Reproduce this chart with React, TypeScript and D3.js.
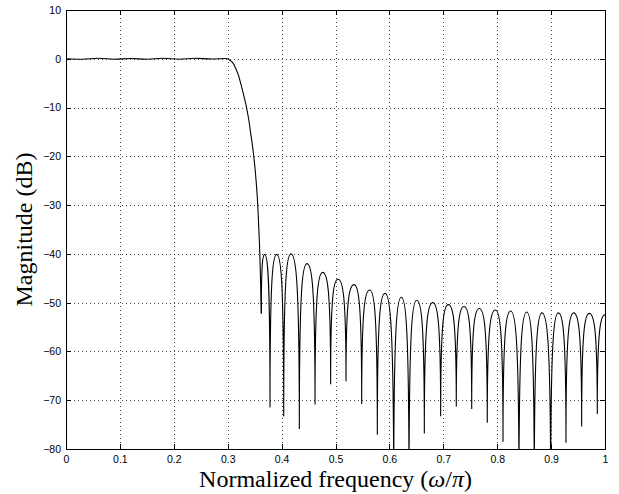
import React, { useEffect, useRef } from 'react';
import * as d3 from 'd3';

// passband ripple + transition band (normalized freq, dB)
const passFreq = [0, 0.03, 0.06, 0.09, 0.12, 0.15, 0.18, 0.21, 0.24, 0.27, 0.295, 0.3, 0.305, 0.31, 0.315, 0.32, 0.324, 0.33, 0.335, 0.3395, 0.3428, 0.3462, 0.349, 0.3512, 0.3531, 0.3547, 0.3559, 0.3578, 0.3596, 0.3611, 0.3624];
const passDb = [0, -0.1, 0.1, -0.1, 0.05, -0.1, 0.1, -0.1, 0.1, -0.05, 0.05, -0.05, -0.35, -0.9, -2.0, -3.4, -5, -7.6, -10, -12.8, -15.4, -18, -20.6, -23, -25.6, -28, -30.3, -35, -40, -46, -52.2];

// stopband nulls (some fall below the -80 dB floor)
const nullFreq = [0.3624, 0.3785, 0.4039, 0.4329, 0.462, 0.491, 0.5195, 0.5486, 0.5776, 0.608, 0.6364, 0.6648, 0.6951, 0.7241, 0.7527, 0.7816, 0.8108, 0.8404, 0.8688, 0.8992, 0.9276, 0.9567, 0.9857];
const nullDb = [-52.2, -71.5, -73.3, -75.9, -70.9, -66.7, -66.1, -70.8, -77.1, -90, -90, -76.8, -73.3, -71.3, -71.8, -74.6, -78.5, -90, -90, -90, -78.7, -75.4, -72.8];

// stopband lobe peaks
const peakFreq = [0.3686, 0.3909, 0.4174, 0.4471, 0.4762, 0.5046, 0.5343, 0.5634, 0.5918, 0.6221, 0.6506, 0.6803, 0.7093, 0.7384, 0.7668, 0.7965, 0.825, 0.8547, 0.8831, 0.9134, 0.9419, 0.9709, 1.0];
const peakDb = [-40.1, -40.1, -40.0, -42.0, -43.8, -45.2, -46.3, -47.4, -48.1, -48.9, -49.5, -50.0, -50.4, -50.8, -51.2, -51.5, -51.7, -51.9, -52.1, -52.1, -52.1, -52.2, -52.5];

const xTicks = [0, 0.1, 0.2, 0.3, 0.4, 0.5, 0.6, 0.7, 0.8, 0.9, 1];
const yTicks = [-80, -70, -60, -50, -40, -30, -20, -10, 0, 10];

// lobe shaped curve: vertical at the nulls, flat at the peaks
function curveLobe(context) {
  let x0 = 0, y0 = 0, started = false;
  return {
    areaStart() {},
    areaEnd() {},
    lineStart() { started = false; },
    lineEnd() {},
    point(x, y) {
      if (!started) {
        context.moveTo(x, y);
        started = true;
      } else if (y < y0) {
        // rising out of a null
        context.bezierCurveTo(x0, y0 + (y - y0) * 0.85, x - (x - x0) * 0.6, y, x, y);
      } else {
        // falling into a null
        context.bezierCurveTo(x0 + (x - x0) * 0.6, y0, x, y - (y - y0) * 0.85, x, y);
      }
      x0 = x; y0 = y;
    },
  };
}

function App() {
  const ref = useRef(null);

  useEffect(() => {
    const svg = d3.select(ref.current);
    svg.selectAll('*').remove();

    const x = d3.scaleLinear().domain([0, 1]).range([66, 605]);
    const y = d3.scaleLinear().domain([-80, 10]).range([449, 10]);

    // dotted grid
    const grid = svg.append('g')
      .attr('stroke', '#444')
      .attr('stroke-width', 1)
      .attr('stroke-dasharray', '1,3')
      .attr('shape-rendering', 'crispEdges');
    grid.append('g').selectAll('line')
      .data(xTicks.slice(1, -1))
      .join('line')
      .attr('x1', d => Math.round(x(d)) + 0.5).attr('x2', d => Math.round(x(d)) + 0.5)
      .attr('y1', y(10)).attr('y2', y(-80));
    grid.append('g').selectAll('line')
      .data(yTicks.slice(1, -1))
      .join('line')
      .attr('y1', d => Math.round(y(d)) + 0.5).attr('y2', d => Math.round(y(d)) + 0.5)
      .attr('x1', x(0)).attr('x2', x(1));

    svg.append('defs').append('clipPath').attr('id', 'plotClip')
      .append('rect')
      .attr('x', x(0)).attr('y', y(10))
      .attr('width', x(1) - x(0)).attr('height', y(-80) - y(10));

    const plot = svg.append('g').attr('clip-path', 'url(#plotClip)');

    const passPts = passFreq.map((f, i) => [f, passDb[i]]);
    const stopPts = [];
    nullFreq.forEach((f, i) => {
      stopPts.push([f, nullDb[i]]);
      stopPts.push([peakFreq[i], peakDb[i]]);
    });

    plot.append('path')
      .datum(passPts)
      .attr('fill', 'none').attr('stroke', '#000').attr('stroke-width', 1.1)
      .attr('d', d3.line().x(d => x(d[0])).y(d => y(d[1])).curve(d3.curveMonotoneX));
    plot.append('path')
      .datum(stopPts)
      .attr('fill', 'none').attr('stroke', '#000').attr('stroke-width', 1.1)
      .attr('d', d3.line().x(d => x(d[0])).y(d => y(d[1])).curve(curveLobe));

    // axes, ticks point inward on all four sides
    const font = '"Liberation Sans", Arial, Helvetica, sans-serif';
    const styleAxis = g => {
      g.attr('font-family', font).attr('font-size', 10.5).attr('shape-rendering', 'crispEdges');
      g.selectAll('text').attr('fill', '#000');
    };

    svg.append('g')
      .attr('transform', `translate(0,${y(-80)})`)
      .call(d3.axisBottom(x).tickValues(xTicks).tickSize(-5).tickSizeOuter(0).tickPadding(7)
        .tickFormat(d => `${+(+d).toFixed(1)}`))
      .call(styleAxis);
    svg.append('g')
      .attr('transform', `translate(${x(0)},0)`)
      .call(d3.axisLeft(y).tickValues(yTicks).tickSize(-5).tickSizeOuter(0).tickPadding(5)
        .tickFormat(d3.format('d')))
      .call(styleAxis);
    svg.append('g')
      .attr('transform', `translate(0,${y(10)})`)
      .call(d3.axisTop(x).tickValues(xTicks).tickSize(-5).tickSizeOuter(0).tickFormat(() => ''))
      .call(styleAxis);
    svg.append('g')
      .attr('transform', `translate(${x(1)},0)`)
      .call(d3.axisRight(y).tickValues(yTicks).tickSize(-5).tickSizeOuter(0).tickFormat(() => ''))
      .call(styleAxis);

    const serif = '"Liberation Serif", "DejaVu Serif", serif';
    const xl = svg.append('text')
      .attr('x', (x(0) + x(1)) / 2).attr('y', 487)
      .attr('text-anchor', 'middle')
      .attr('font-family', serif).attr('font-size', 24).attr('fill', '#000');
    xl.append('tspan').text('Normalized frequency (');
    xl.append('tspan').attr('font-style', 'italic').text('ω');
    xl.append('tspan').text('/');
    xl.append('tspan').attr('font-style', 'italic').text('π');
    xl.append('tspan').text(')');

    svg.append('text')
      .attr('transform', `translate(32,${(y(10) + y(-80)) / 2}) rotate(-90)`)
      .attr('text-anchor', 'middle')
      .attr('font-family', serif).attr('font-size', 24).attr('fill', '#000')
      .text('Magnitude (dB)');
  }, []);

  return (
    <svg ref={ref} width={619} height={494}
      style={{ position: 'absolute', left: 0, top: 0, background: '#fff' }} />
  );
}

export default App;
